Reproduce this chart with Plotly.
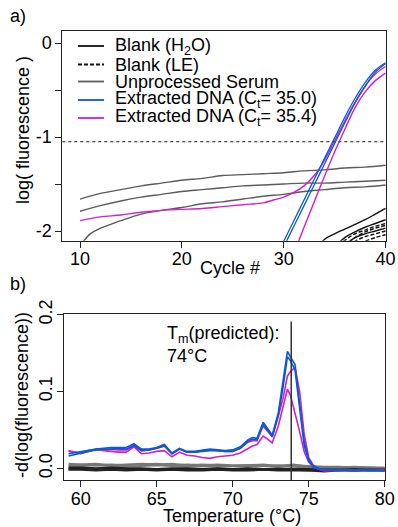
import plotly.graph_objects as go

W, H = 398, 527
FONT = "Liberation Sans, Arial, sans-serif"

# ---------------- Panel a: amplification curves ----------------
CYC_STEP2 = [10, 12, 14, 16, 18, 20, 22, 24, 26, 28, 30, 32, 34, 36, 38, 40]
SERUM_1 = [-1.66, -1.60, -1.56, -1.52, -1.49, -1.46, -1.44, -1.41, -1.40, -1.39, -1.38, -1.36, -1.35, -1.33, -1.32, -1.30]
SERUM_2 = [-1.79, -1.73, -1.68, -1.64, -1.61, -1.58, -1.56, -1.54, -1.52, -1.51, -1.50, -1.49, -1.49, -1.48, -1.47, -1.46]
CYC_SERUM_3 = [10, 11, 12, 13, 14, 16, 18, 20, 22, 24, 26, 28, 30, 32, 34, 36, 38, 40]
SERUM_3 = [-2.16, -2.03, -1.97, -1.93, -1.89, -1.82, -1.78, -1.75, -1.71, -1.69, -1.66, -1.63, -1.61, -1.58, -1.56, -1.54, -1.53, -1.51]

CYC_MAG_A = [10, 12, 14, 16, 18, 20, 22, 24, 26, 28, 29, 30, 31, 32, 33, 34, 35, 36, 37, 38, 39, 40]
MAG_A = [-1.89, -1.85, -1.83, -1.80, -1.78, -1.77, -1.76, -1.74, -1.72, -1.70, -1.67, -1.64, -1.59, -1.52,
         -1.41, -1.25, -1.04, -0.83, -0.63, -0.46, -0.33, -0.25]
CYC_MAG_B = [31, 32, 33, 34, 35, 36, 37, 38, 39, 40]
MAG_B = [-2.24, -1.96, -1.69, -1.42, -1.16, -0.92, -0.69, -0.52, -0.40, -0.32]

CYC_BLUE = [29, 30, 31, 32, 33, 34, 35, 36, 37, 38, 39, 40]
BLUE_1 = [-2.33, -2.11, -1.89, -1.67, -1.45, -1.23, -1.01, -0.79, -0.59, -0.42, -0.29, -0.21]
BLUE_2 = [-2.39, -2.17, -1.95, -1.73, -1.51, -1.29, -1.07, -0.85, -0.64, -0.46, -0.31, -0.22]

CYC_H2O_1 = [33, 34, 35, 36, 37, 38, 39, 40]
H2O_1 = [-2.20, -2.09, -2.03, -1.98, -1.93, -1.88, -1.82, -1.76]
CYC_H2O_2 = [35, 36, 37, 38, 39, 40]
H2O_2 = [-2.17, -2.07, -2.01, -1.96, -1.92, -1.88]
CYC_H2O_3 = [36, 37, 38, 39, 40]
H2O_3 = [-2.15, -2.07, -2.03, -2.00, -1.97]
CYC_LE_1 = [35, 36, 37, 38, 39, 40]
LE_1 = [-2.20, -2.10, -2.03, -1.99, -1.95, -1.92]
CYC_LE_2 = [36, 37, 38, 39, 40]
LE_2 = [-2.16, -2.07, -2.01, -1.97, -1.94]
CYC_LE_3 = [36, 37, 38, 39, 40]
LE_3 = [-2.20, -2.11, -2.06, -2.03, -2.00]
CYC_LE_4 = [37, 38, 39, 40]
LE_4 = [-2.17, -2.11, -2.07, -2.04]

THRESHOLD = -1.05

# ---------------- Panel b: melt curves ----------------
TEMP = [59.2, 60.0, 60.5, 61.0, 61.5, 62.0, 62.5, 63.0, 63.5, 64.0, 64.5, 65.0, 65.5, 66.0, 66.5, 67.0,
        67.5, 68.0, 68.5, 69.0, 69.5, 70.0, 70.5, 71.0, 71.3, 71.6, 72.0, 72.3, 72.6, 73.0, 73.3, 73.6,
        73.8, 74.1, 74.4, 74.7, 75.0, 75.3, 75.6, 76.0, 77.0, 78.0, 79.0, 80.0]
MELT_BLUE_1 = [0.019, 0.022, 0.024, 0.025, 0.026, 0.027, 0.027, 0.027, 0.032, 0.025, 0.025, 0.027, 0.031,
               0.020, 0.026, 0.022, 0.022, 0.024, 0.025, 0.024, 0.023, 0.024, 0.028, 0.037, 0.040, 0.039,
               0.060, 0.052, 0.043, 0.072, 0.110, 0.152, 0.145, 0.135, 0.085, 0.035, 0.012, 0.003, 0.000,
               -0.002, -0.003, -0.002, -0.003, -0.003]
MELT_BLUE_2 = [0.016, 0.020, 0.022, 0.024, 0.025, 0.025, 0.026, 0.025, 0.030, 0.023, 0.024, 0.026, 0.029,
               0.019, 0.025, 0.021, 0.021, 0.022, 0.023, 0.023, 0.022, 0.022, 0.026, 0.035, 0.038, 0.037,
               0.057, 0.050, 0.041, 0.069, 0.104, 0.145, 0.140, 0.128, 0.078, 0.030, 0.010, 0.002, -0.001,
               -0.002, -0.002, -0.003, -0.002, -0.003]
MELT_MAG_1 = [0.022, 0.020, 0.023, 0.024, 0.024, 0.025, 0.024, 0.024, 0.029, 0.023, 0.024, 0.026, 0.029,
              0.019, 0.025, 0.021, 0.021, 0.023, 0.024, 0.023, 0.022, 0.022, 0.026, 0.034, 0.036, 0.036,
              0.055, 0.048, 0.041, 0.068, 0.090, 0.120, 0.126, 0.131, 0.100, 0.045, 0.014, 0.004, 0.000,
              -0.003, -0.002, -0.003, -0.002, -0.003]
MELT_MAG_2 = [0.023, 0.019, 0.022, 0.025, 0.023, 0.022, 0.021, 0.021, 0.028, 0.019, 0.020, 0.022, 0.023,
              0.015, 0.021, 0.017, 0.016, 0.014, 0.013, 0.015, 0.016, 0.017, 0.020, 0.026, 0.029, 0.031,
              0.042, 0.038, 0.033, 0.055, 0.080, 0.103, 0.095, 0.072, 0.048, 0.022, 0.008, 0.002, -0.001,
              -0.003, -0.003, -0.002, -0.003, -0.002]

TEMP_BG = [59.2, 60, 61, 62, 63, 64, 65, 66, 67, 68, 69, 70, 71, 72, 73, 74, 75, 76, 77, 78, 79, 80]
MELT_SERUM_1 = [0.004, 0.005, 0.004, 0.005, 0.004, 0.005, 0.006, 0.004, 0.005, 0.004, 0.005, 0.004, 0.004,
                0.005, 0.003, 0.004, 0.003, 0.002, 0.002, 0.001, 0.001, 0.001]
MELT_SERUM_2 = [0.002, 0.003, 0.004, 0.003, 0.002, 0.003, 0.004, 0.003, 0.002, 0.003, 0.002, 0.003, 0.002,
                0.003, 0.004, 0.002, 0.001, 0.000, 0.000, 0.001, 0.000, 0.000]
MELT_SERUM_3 = [0.006, 0.005, 0.006, 0.004, 0.005, 0.006, 0.005, 0.006, 0.004, 0.005, 0.004, 0.003, 0.004,
                0.003, 0.003, 0.005, 0.002, 0.001, 0.001, 0.002, 0.001, 0.000]
MELT_BLANK_1 = [-0.001, 0.000, -0.001, 0.000, -0.001, -0.002, -0.001, -0.001, -0.002, -0.001, -0.002, -0.002,
                -0.002, -0.001, -0.002, -0.002, -0.003, -0.002, -0.002, -0.003, -0.002, -0.002]
MELT_BLANK_2 = [0.001, 0.001, 0.000, 0.001, 0.000, 0.000, -0.001, 0.000, 0.000, -0.001, 0.000, -0.001, 0.000,
                -0.001, 0.000, -0.001, -0.001, -0.002, -0.002, -0.001, -0.002, -0.002]
MELT_BLANK_3 = [-0.002, -0.002, -0.003, -0.002, -0.003, -0.002, -0.003, -0.002, -0.003, -0.003, -0.002, -0.003,
                -0.003, -0.002, -0.003, -0.003, -0.003, -0.004, -0.003, -0.003, -0.003, -0.003]

TM_PREDICTED = 73.85

LEGEND_LABELS = ["Blank (H<sub>2</sub>O)", "Blank (LE)", "Unprocessed Serum",
                 "Extracted DNA (C<sub>t</sub>= 35.0)", "Extracted DNA (C<sub>t</sub>= 35.4)"]

BLACK = "#111111"
GRAY = "#5c5c5c"
BLUE = "#0a5ad2"
MAGENTA = "#d21ed2"

fig = go.Figure()


def add(x, y, color, width=1.4, dash="solid", shape="spline", xa="x", ya="y"):
    fig.add_trace(go.Scatter(x=x, y=y, mode="lines", xaxis=xa, yaxis=ya, showlegend=False,
                             hoverinfo="skip",
                             line=dict(color=color, width=width, dash=dash, shape=shape)))


# panel a
add(CYC_STEP2, SERUM_1, GRAY)
add(CYC_STEP2, SERUM_2, GRAY)
add(CYC_SERUM_3, SERUM_3, GRAY)
for cx, cy in [(CYC_H2O_1, H2O_1), (CYC_H2O_2, H2O_2), (CYC_H2O_3, H2O_3)]:
    add(cx, cy, BLACK)
for cx, cy in [(CYC_LE_1, LE_1), (CYC_LE_2, LE_2), (CYC_LE_3, LE_3), (CYC_LE_4, LE_4)]:
    add(cx, cy, BLACK, dash="4px,2px")
add(CYC_MAG_A, MAG_A, MAGENTA)
add(CYC_MAG_B, MAG_B, MAGENTA)
add(CYC_BLUE, BLUE_1, BLUE, width=1.3)
add(CYC_BLUE, BLUE_2, BLUE, width=1.3)

# panel b
for yy in [MELT_SERUM_1, MELT_SERUM_2, MELT_SERUM_3]:
    add(TEMP_BG, yy, "#777777", width=2.0, shape="linear", xa="x2", ya="y2")
for yy in [MELT_BLANK_1, MELT_BLANK_2, MELT_BLANK_3]:
    add(TEMP_BG, yy, "#222222", width=2.0, shape="linear", xa="x2", ya="y2")
add(TEMP, MELT_MAG_2, MAGENTA, width=1.6, shape="linear", xa="x2", ya="y2")
add(TEMP, MELT_MAG_1, MAGENTA, width=1.6, shape="linear", xa="x2", ya="y2")
add(TEMP, MELT_BLUE_2, BLUE, width=1.6, shape="linear", xa="x2", ya="y2")
add(TEMP, MELT_BLUE_1, BLUE, width=1.6, shape="linear", xa="x2", ya="y2")

axis_common = dict(showline=True, linecolor="#222", linewidth=1, mirror=True, ticks="outside",
                   ticklen=6, tickcolor="#222", showgrid=False, zeroline=False, automargin=False,
                   tickfont=dict(size=18, color="black", family=FONT))

fig.update_layout(
    width=W, height=H, margin=dict(l=0, r=0, t=0, b=0),
    paper_bgcolor="white", plot_bgcolor="white", template="none",
    font=dict(family=FONT, color="black", size=18),
    showlegend=False,
    xaxis=dict(domain=[62.3 / W, 386 / W], range=[8.26, 40.05], tickvals=[10, 20, 30, 40],
               anchor="y", ticklabelstandoff=-4, **axis_common),
    yaxis=dict(domain=[1 - 240.7 / H, 1 - 31 / H], range=[-2.103, 0.128], tickvals=[0, -1, -2],
               ticktext=["0", "-1", "-2"], anchor="x",
               minor=dict(tickvals=[-0.5, -1.5], ticks="outside", ticklen=6, tickcolor="#222"),
               **axis_common),
    xaxis2=dict(domain=[64.3 / W, 385 / W], range=[58.92, 80.02], tickvals=[60, 65, 70, 75, 80],
                anchor="y2", ticklabelstandoff=-4, **axis_common),
    yaxis2=dict(domain=[1 - 480 / H, 1 - 313.8 / H], range=[-0.0152, 0.201], tickvals=[0, 0.1, 0.2],
                tickformat=".1f", tickangle=-90, anchor="x2", ticklabelstandoff=-2, **axis_common),
)

# axis titles
fig.add_annotation(xref="paper", yref="paper", x=230 / W, y=1 - 268 / H, xanchor="center", yanchor="middle",
                   showarrow=False, text="Cycle #", font=dict(size=18))
fig.add_annotation(xref="paper", yref="paper", x=232 / W, y=1 - 516 / H, xanchor="center", yanchor="middle",
                   showarrow=False, text="Temperature (°C)", font=dict(size=18))
fig.add_annotation(xref="paper", yref="paper", x=23 / W, y=1 - 130 / H, xanchor="center", yanchor="middle",
                   showarrow=False, text="log( fluorescence )", textangle=-90, font=dict(size=18))
fig.add_annotation(xref="paper", yref="paper", x=22 / W, y=1 - 395 / H, xanchor="center", yanchor="middle",
                   showarrow=False, text="-d(log(fluorescence))", textangle=-90, font=dict(size=18))

# threshold line (panel a)
fig.add_shape(type="line", xref="x domain", yref="y", x0=0, x1=1, y0=THRESHOLD, y1=THRESHOLD,
              line=dict(color="#444", width=1.2, dash="3px,3px"))
# Tm line (panel b)
fig.add_shape(type="line", xref="x2", yref="y2", x0=TM_PREDICTED, x1=TM_PREDICTED, y0=-0.0152, y1=0.191,
              line=dict(color="#333", width=1.5))

fig.add_annotation(xref="x2", yref="y2", x=65.55, y=0.192, xanchor="left", yanchor="top", align="left",
                   showarrow=False, text="T<sub>m</sub>(predicted):<br>74°C", font=dict(size=18))

# custom legend (panel a)
leg_y = [46, 64.5, 81.5, 100, 118]
leg_style = [(BLACK, "solid"), (BLACK, "4px,2px"), (GRAY, "solid"), (BLUE, "solid"), (MAGENTA, "solid")]
for lbl, yy, (col, dsh) in zip(LEGEND_LABELS, leg_y, leg_style):
    fig.add_shape(type="line", xref="paper", yref="paper", x0=78 / W, x1=104 / W, y0=1 - yy / H, y1=1 - yy / H,
                  line=dict(color=col, width=1.8, dash=dsh))
    fig.add_annotation(xref="paper", yref="paper", x=113 / W, y=1 - yy / H, xanchor="left", yanchor="middle",
                       showarrow=False, text=lbl, font=dict(size=18))

fig.add_annotation(xref="paper", yref="paper", x=8 / W, y=1 - 4 / H, xanchor="left", yanchor="top",
                   showarrow=False, text="a)", font=dict(size=18))
fig.add_annotation(xref="paper", yref="paper", x=8 / W, y=1 - 272 / H, xanchor="left", yanchor="top",
                   showarrow=False, text="b)", font=dict(size=18))

fig.write_html("out.html", config={"displayModeBar": False},
               post_script="document.body.style.margin='0px';document.body.style.overflow='hidden';")
